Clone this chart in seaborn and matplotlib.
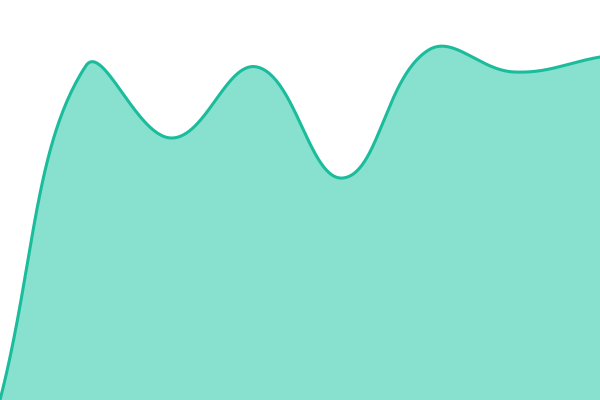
import numpy as np
import pandas as pd
import seaborn as sns
import matplotlib
matplotlib.use('Agg')
import matplotlib.pyplot as plt

# data points (category index -> value)
x_points = [0, 1, 2, 3, 4, 5, 6, 7]
y_values = [0, 334, 262, 333, 222, 350, 328, 343]

line_color = '#1abc9c'
fill_color = '#88e0cf'
tension = 0.4


def smooth_curve(x, y, t=0.4, n=60):
    # bezier smoothing like chart.js (control points from neighbours), in pixel space
    sx = 600 / (len(x) - 1)
    P = np.column_stack([np.asarray(x, float) * sx, np.asarray(y, float)])
    k = len(P)
    c_prev = np.zeros_like(P)
    c_next = np.zeros_like(P)
    for i in range(k):
        prv = P[max(i - 1, 0)]
        cur = P[i]
        nxt = P[min(i + 1, k - 1)]
        d01 = np.hypot(*(cur - prv))
        d12 = np.hypot(*(nxt - cur))
        tot = d01 + d12
        s01 = d01 / tot if tot else 0
        s12 = d12 / tot if tot else 0
        c_prev[i] = cur - t * s01 * (nxt - prv)
        c_next[i] = cur + t * s12 * (nxt - prv)
    u = np.linspace(0, 1, n)[:, None]
    segs = []
    for i in range(k - 1):
        b = ((1 - u) ** 3 * P[i] + 3 * (1 - u) ** 2 * u * c_next[i]
             + 3 * (1 - u) * u ** 2 * c_prev[i + 1] + u ** 3 * P[i + 1])
        segs.append(b if i == 0 else b[1:])
    out = np.vstack(segs)
    return out[:, 0] / sx, out[:, 1]


xs, ys = smooth_curve(x_points, y_values, tension)
df = pd.DataFrame({'x': xs, 'y': ys})

sns.set_style('white')
fig = plt.figure(figsize=(6, 4), dpi=100)
ax = fig.add_axes([0, 0, 1, 1])

ax.fill_between(df['x'], df['y'], 0, color=fill_color, linewidth=0)
sns.lineplot(data=df, x='x', y='y', ax=ax, color=line_color, linewidth=2.2,
             sort=False, estimator=None)

ax.set_xlim(0, 7)
ax.set_ylim(0, 400)
ax.axis('off')

fig.savefig('out.png', dpi=100)
